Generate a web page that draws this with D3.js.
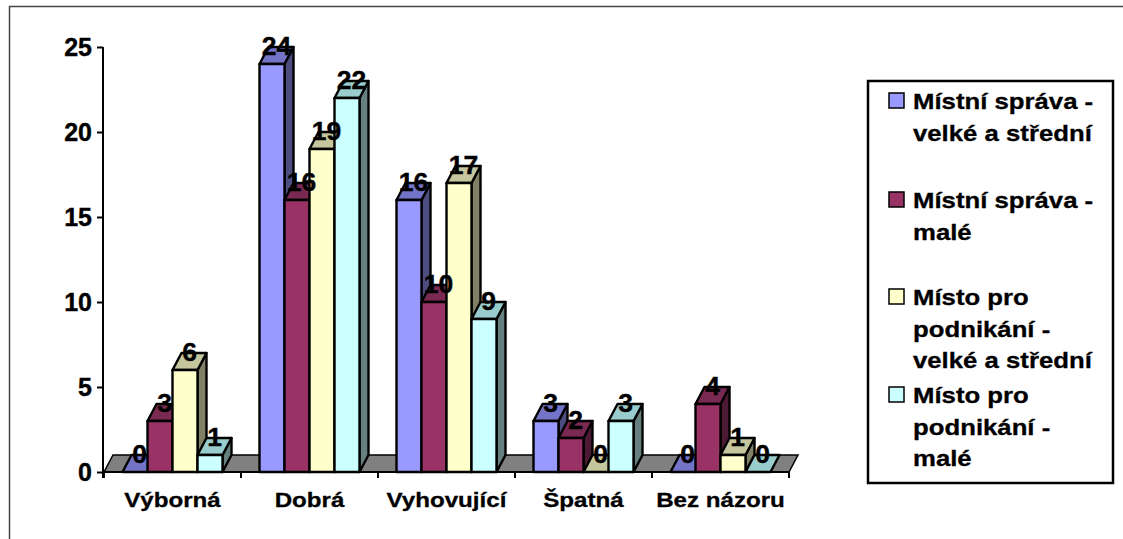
<!DOCTYPE html>
<html><head><meta charset="utf-8">
<script src="https://cdn.jsdelivr.net/npm/d3@7"></script>
<style>body{margin:0;background:#fff}svg{display:block}</style>
</head><body>
<svg id="c" width="1123" height="539"></svg>
<script>
const categories = ["Výborná", "Dobrá", "Vyhovující", "Špatná", "Bez názoru"];
const seriesNames = [
  ["Místní správa -", "velké a střední"],
  ["Místní správa -", "malé"],
  ["Místo pro", "podnikání -", "velké a střední"],
  ["Místo pro", "podnikání -", "malé"]
];
const s1 = [0, 24, 16, 3, 0];
const s2 = [3, 16, 10, 2, 4];
const s3 = [6, 19, 17, 0, 1];
const s4 = [1, 22, 9, 3, 0];
const seriesValues = [s1, s2, s3, s4];
const yTicks = [0, 5, 10, 15, 20, 25];

const frontColors = ["#9999FF", "#993366", "#FFFFCC", "#CCFFFF"];
const topColors   = ["#7373C8", "#7A2952", "#C6C69E", "#99CCCC"];
const sideColors  = ["#4D4D80", "#4D1A33", "#808066", "#668080"];

const svg = d3.select("#c");
const DX = 9, DY = -17;
const FONT = "'Liberation Sans', Arial, sans-serif";

// outer border
svg.append("rect").attr("x", 9.5).attr("y", 6.5).attr("width", 1200).attr("height", 600)
  .attr("fill", "none").attr("stroke", "#444").attr("stroke-width", 1.5);

const x = d3.scaleBand().domain(categories).range([104, 789]).padding(0);
const xs = d3.scaleBand().domain(d3.range(4)).range([18.5, 118.5]).padding(0);
const y = d3.scaleLinear().domain([0, 25]).range([472, 47]);

// floor
const x0 = x.range()[0], x1 = x.range()[1], yb = y(0);
svg.append("path")
  .attr("d", `M${x0},${yb}L${x1},${yb}L${x1+DX},${yb+DY}L${x0+DX},${yb+DY}Z`)
  .attr("fill", "#808080").attr("stroke", "#000").attr("stroke-width", 1.5);

// bars
const g = svg.append("g").attr("stroke", "#000").attr("stroke-width", 2.4).attr("stroke-linejoin", "round");
const labels = [];
categories.forEach((c, ci) => {
  seriesValues.forEach((vals, si) => {
    const v = vals[ci];
    const bx = x(c) + xs(si), bw = xs.bandwidth();
    const ty = y(v), by = y(0);
    if (v > 0) {
      g.append("path")
        .attr("d", `M${bx+bw},${by}L${bx+bw+DX},${by+DY}L${bx+bw+DX},${ty+DY}L${bx+bw},${ty}Z`)
        .attr("fill", sideColors[si]);
    }
    g.append("path")
      .attr("d", `M${bx},${ty}L${bx+bw},${ty}L${bx+bw+DX},${ty+DY}L${bx+DX},${ty+DY}Z`)
      .attr("fill", topColors[si]);
    if (v > 0) {
      g.append("rect").attr("x", bx).attr("y", ty).attr("width", bw).attr("height", by - ty)
        .attr("fill", frontColors[si]);
    }
    labels.push({x: bx + bw / 2 + DX / 2, y: ty + DY / 2 - 1, t: v});
  });
});

// axes
const yAxis = svg.append("g").attr("transform", `translate(103,0)`)
  .call(d3.axisLeft(y).tickValues(yTicks).tickSize(6).tickPadding(5).tickFormat(d3.format("d")));
yAxis.select(".domain").attr("d", `M0,${y(25)}V${y(0) + 6}`).attr("stroke", "#000").attr("stroke-width", 2);
yAxis.selectAll(".tick line").attr("stroke", "#000").attr("stroke-width", 2);
yAxis.selectAll(".tick text").attr("fill", "#000").attr("stroke", "#000").attr("stroke-width", 0.4)
  .style("font", `bold 25px ${FONT}`);

const xa = svg.append("g");
xa.append("line").attr("x1", 103).attr("x2", x1).attr("y1", yb).attr("y2", yb)
  .attr("stroke", "#000").attr("stroke-width", 2);
const bounds = categories.map(c => x(c)).concat([x1]);
xa.selectAll("line.t").data(bounds).join("line").attr("class", "t")
  .attr("x1", d => d).attr("x2", d => d).attr("y1", yb).attr("y2", yb + 6)
  .attr("stroke", "#000").attr("stroke-width", 2);
xa.selectAll("text").data(categories).join("text")
  .attr("transform", d => `translate(${x(d) + x.bandwidth() / 2},507) scale(1.15,1)`)
  .attr("text-anchor", "middle").attr("stroke", "#000").attr("stroke-width", 0.3)
  .style("font", `bold 21px ${FONT}`)
  .text(d => d);

// value labels
svg.append("g").selectAll("text").data(labels).join("text")
  .attr("transform", d => `translate(${d.x},${d.y}) scale(1.06,1)`)
  .attr("text-anchor", "middle").attr("stroke", "#000").attr("stroke-width", 0.4)
  .style("font", `bold 25px ${FONT}`)
  .text(d => d.t);

// legend
svg.append("rect").attr("x", 868).attr("y", 81).attr("width", 245).attr("height", 402)
  .attr("fill", "#fff").attr("stroke", "#000").attr("stroke-width", 2.5);
const legTops = [109, 208, 305, 403];
const lg = svg.append("g");
seriesNames.forEach((lines, i) => {
  lg.append("rect").attr("x", 889).attr("y", legTops[i] - 16).attr("width", 15).attr("height", 15)
    .attr("fill", frontColors[i]).attr("stroke", "#000").attr("stroke-width", 1.5);
  lines.forEach((ln, li) => {
    lg.append("text")
      .attr("transform", `translate(913,${legTops[i] + li * 31.5}) scale(1.17,1)`)
      .attr("stroke", "#000").attr("stroke-width", 0.3)
      .style("font", `bold 22px ${FONT}`)
      .text(ln);
  });
});
</script>
</body></html>
